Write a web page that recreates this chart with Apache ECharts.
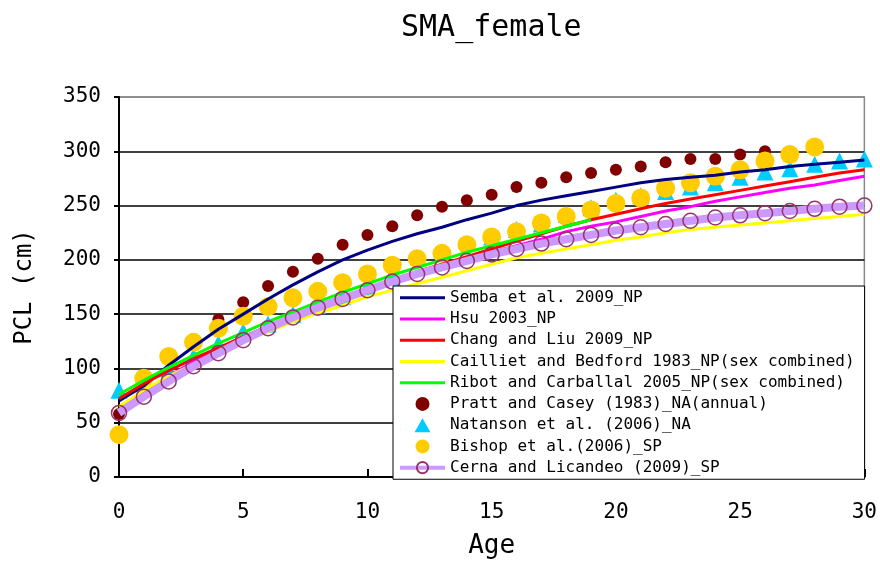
<!DOCTYPE html>
<html>
<head>
<meta charset="utf-8">
<script src="https://cdn.jsdelivr.net/npm/echarts@6/dist/echarts.min.js"></script>
<style>
  html, body { margin: 0; padding: 0; background: #fff; }
  #chart { width: 880px; height: 565px; }
</style>
</head>
<body>
<div id="chart"></div>
<script>
// ---- data ----
const ages = [0,1,2,3,4,5,6,7,8,9,10,11,12,13,14,15,16,17,18,19,20,21,22,23,24,25,26,27,28,29,30];

const semba   = [70,84,103,120,136,150,164,177,189,200,209,217,224,230,237,243,250,255,259,263,267,271,274,276,278,281,283,286,288,290,292];
const hsu     = [62,78,93,106,118,129,139,149,158,166,174,182,189,195,201,207,213,219,226,231,235,240,245,249,254,258,262,266,269,273,277];
const chang   = [72,86,98,109,119,129,138,147,156,165,173,181,189,196,203,210,217,224,231,237,242,247,252,256,260,264,268,272,276,280,283];
const cailliet= [65,80,93,104,115,125,134,143,151,158,166,172,178,184,190,196,202,206,210,214,218,221,225,228,230,232,234,236,238,240,242];
const ribot   = [76,89,101,112,123,133,143,152,161,170,178,186,193,200,207,213,219,225,231,237,null,null,null,null,null,null,null,null,null,null,null];
const pratt   = [58,88,108,127,145,161,176,189,201,214,223,231,241,249,255,260,267,271,276,280,283,286,290,293,293,297,300,null,null,null,null];
const natanson= [80,86,100,111,123,134,141,150,158,166,175,184,null,null,null,221,228,233,242,248,255,259,263,267,271,276,281,284,288,291,293];
const bishop  = [39,91,111,124,137,148,157,165,171,179,187,195,201,206,214,221,226,234,240,246,252,257,266,271,277,283,291,297,304,null,null];
const cerna   = [59,74,88,102,114,126,137,147,156,164,172,180,187,193,199,205,210,215,219,223,227,230,233,236,239,241,243,245,247,249,250];

const yTicks = [0,50,100,150,200,250,300,350];
const xTicks = [0,5,10,15,20,25,30];

const names = [
  'Semba et al. 2009_NP',
  'Hsu 2003_NP',
  'Chang and Liu 2009_NP',
  'Cailliet and Bedford 1983_NP(sex combined)',
  'Ribot and Carballal 2005_NP(sex combined)',
  'Pratt and Casey (1983)_NA(annual)',
  'Natanson et al. (2006)_NA',
  'Bishop et al.(2006)_SP',
  'Cerna and Licandeo (2009)_SP'
];

function pairs(arr) {
  return ages.map((a, i) => [a, arr[i]]).filter(p => p[1] !== null && p[1] !== undefined);
}

const FONT = '"DejaVu Sans Mono", "Liberation Mono", monospace';

function lineSeries(name, arr, color, width) {
  return {
    name: name, type: 'line', data: pairs(arr),
    symbol: 'none', showSymbol: false,
    lineStyle: { color: color, width: width },
    itemStyle: { color: color },
    animation: false
  };
}

function scatterSeries(name, arr, color, symbol, size) {
  return {
    name: name, type: 'scatter', data: pairs(arr),
    symbol: symbol, symbolSize: size,
    itemStyle: { color: color, opacity: 1 },
    animation: false
  };
}

const series = [
  lineSeries(names[0], semba, '#000080', 3),
  lineSeries(names[1], hsu, '#FF00FF', 3),
  lineSeries(names[2], chang, '#FF0000', 3),
  lineSeries(names[3], cailliet, '#FFFF00', 3),
  lineSeries(names[4], ribot, '#00FF00', 3),
  scatterSeries(names[5], pratt, '#800000', 'circle', 12),
  scatterSeries(names[6], natanson, '#00CCFF', 'triangle', 17),
  scatterSeries(names[7], bishop, '#FFCC00', 'circle', 19),
  {
    name: names[8], type: 'line', data: pairs(cerna),
    symbol: 'circle', symbolSize: 15, showSymbol: true,
    lineStyle: { color: '#CC99FF', width: 8 },
    itemStyle: { color: 'rgba(0,0,0,0)', borderColor: '#993366', borderWidth: 1.5 },
    animation: false
  }
];

const hiddenSymbol = { color: 'rgba(0,0,0,0)', borderColor: 'rgba(0,0,0,0)', borderWidth: 0, opacity: 0 };
const legendData = names.map((n, i) => {
  if (i < 5) return { name: n, itemStyle: hiddenSymbol, lineStyle: { width: 3 } };
  if (i === 6) return { name: n, icon: 'path://M0,15 L8.5,0 L17,15 Z' };
  if (i === 8) return { name: n, lineStyle: { width: 4 } };
  return { name: n };
});

const chart = echarts.init(document.getElementById('chart'), null, { renderer: 'canvas' });

const splitColors = yTicks.map((v, i) => i === yTicks.length - 1 ? '#888888' : '#000000');

chart.setOption({
  backgroundColor: '#ffffff',
  animation: false,
  title: {
    text: 'SMA_female',
    left: 396,
    top: 8,
    textStyle: { fontFamily: FONT, fontSize: 30, fontWeight: 'normal', color: '#000' }
  },
  grid: {
    left: 119, right: 15, top: 97, bottom: 88,
    show: true, borderColor: '#888888', borderWidth: 1.5, backgroundColor: 'transparent'
  },
  legend: {
    orient: 'vertical',
    left: 393, top: 286,
    padding: [1, 10, 1, 5],
    itemGap: 0,
    itemWidth: 45, itemHeight: 14,
    backgroundColor: '#ffffff',
    borderColor: '#000000', borderWidth: 1, borderRadius: 0,
    textStyle: { fontFamily: FONT, fontSize: 16, color: '#000', lineHeight: 21.25 },
    data: legendData,
    selectedMode: false
  },
  xAxis: {
    type: 'value', min: 0, max: 30, interval: 5,
    name: 'Age', nameLocation: 'middle', nameGap: 56,
    nameTextStyle: { fontFamily: FONT, fontSize: 26, color: '#000' },
    axisLine: { show: true, lineStyle: { color: '#000', width: 2 } },
    axisTick: { show: true, inside: true, length: 8, lineStyle: { color: '#000', width: 2 } },
    axisLabel: { fontFamily: FONT, fontSize: 21, color: '#000', margin: 25,
      formatter: v => xTicks.includes(v) ? String(v) : '' },
    splitLine: { show: false }
  },
  yAxis: {
    type: 'value', min: 0, max: 350, interval: 50,
    name: 'PCL (cm)', nameLocation: 'middle', nameGap: 82, nameRotate: 90,
    nameTextStyle: { fontFamily: FONT, fontSize: 24, color: '#000' },
    axisLine: { show: true, lineStyle: { color: '#000', width: 2 } },
    axisTick: { show: true, inside: false, length: 5, lineStyle: { color: '#000', width: 2 } },
    axisLabel: { fontFamily: FONT, fontSize: 21, color: '#000', margin: 18,
      formatter: v => yTicks.includes(v) ? String(v) : '' },
    splitLine: { show: true, lineStyle: { color: splitColors, width: 1.5 } }
  },
  series: series
});
</script>
</body>
</html>
